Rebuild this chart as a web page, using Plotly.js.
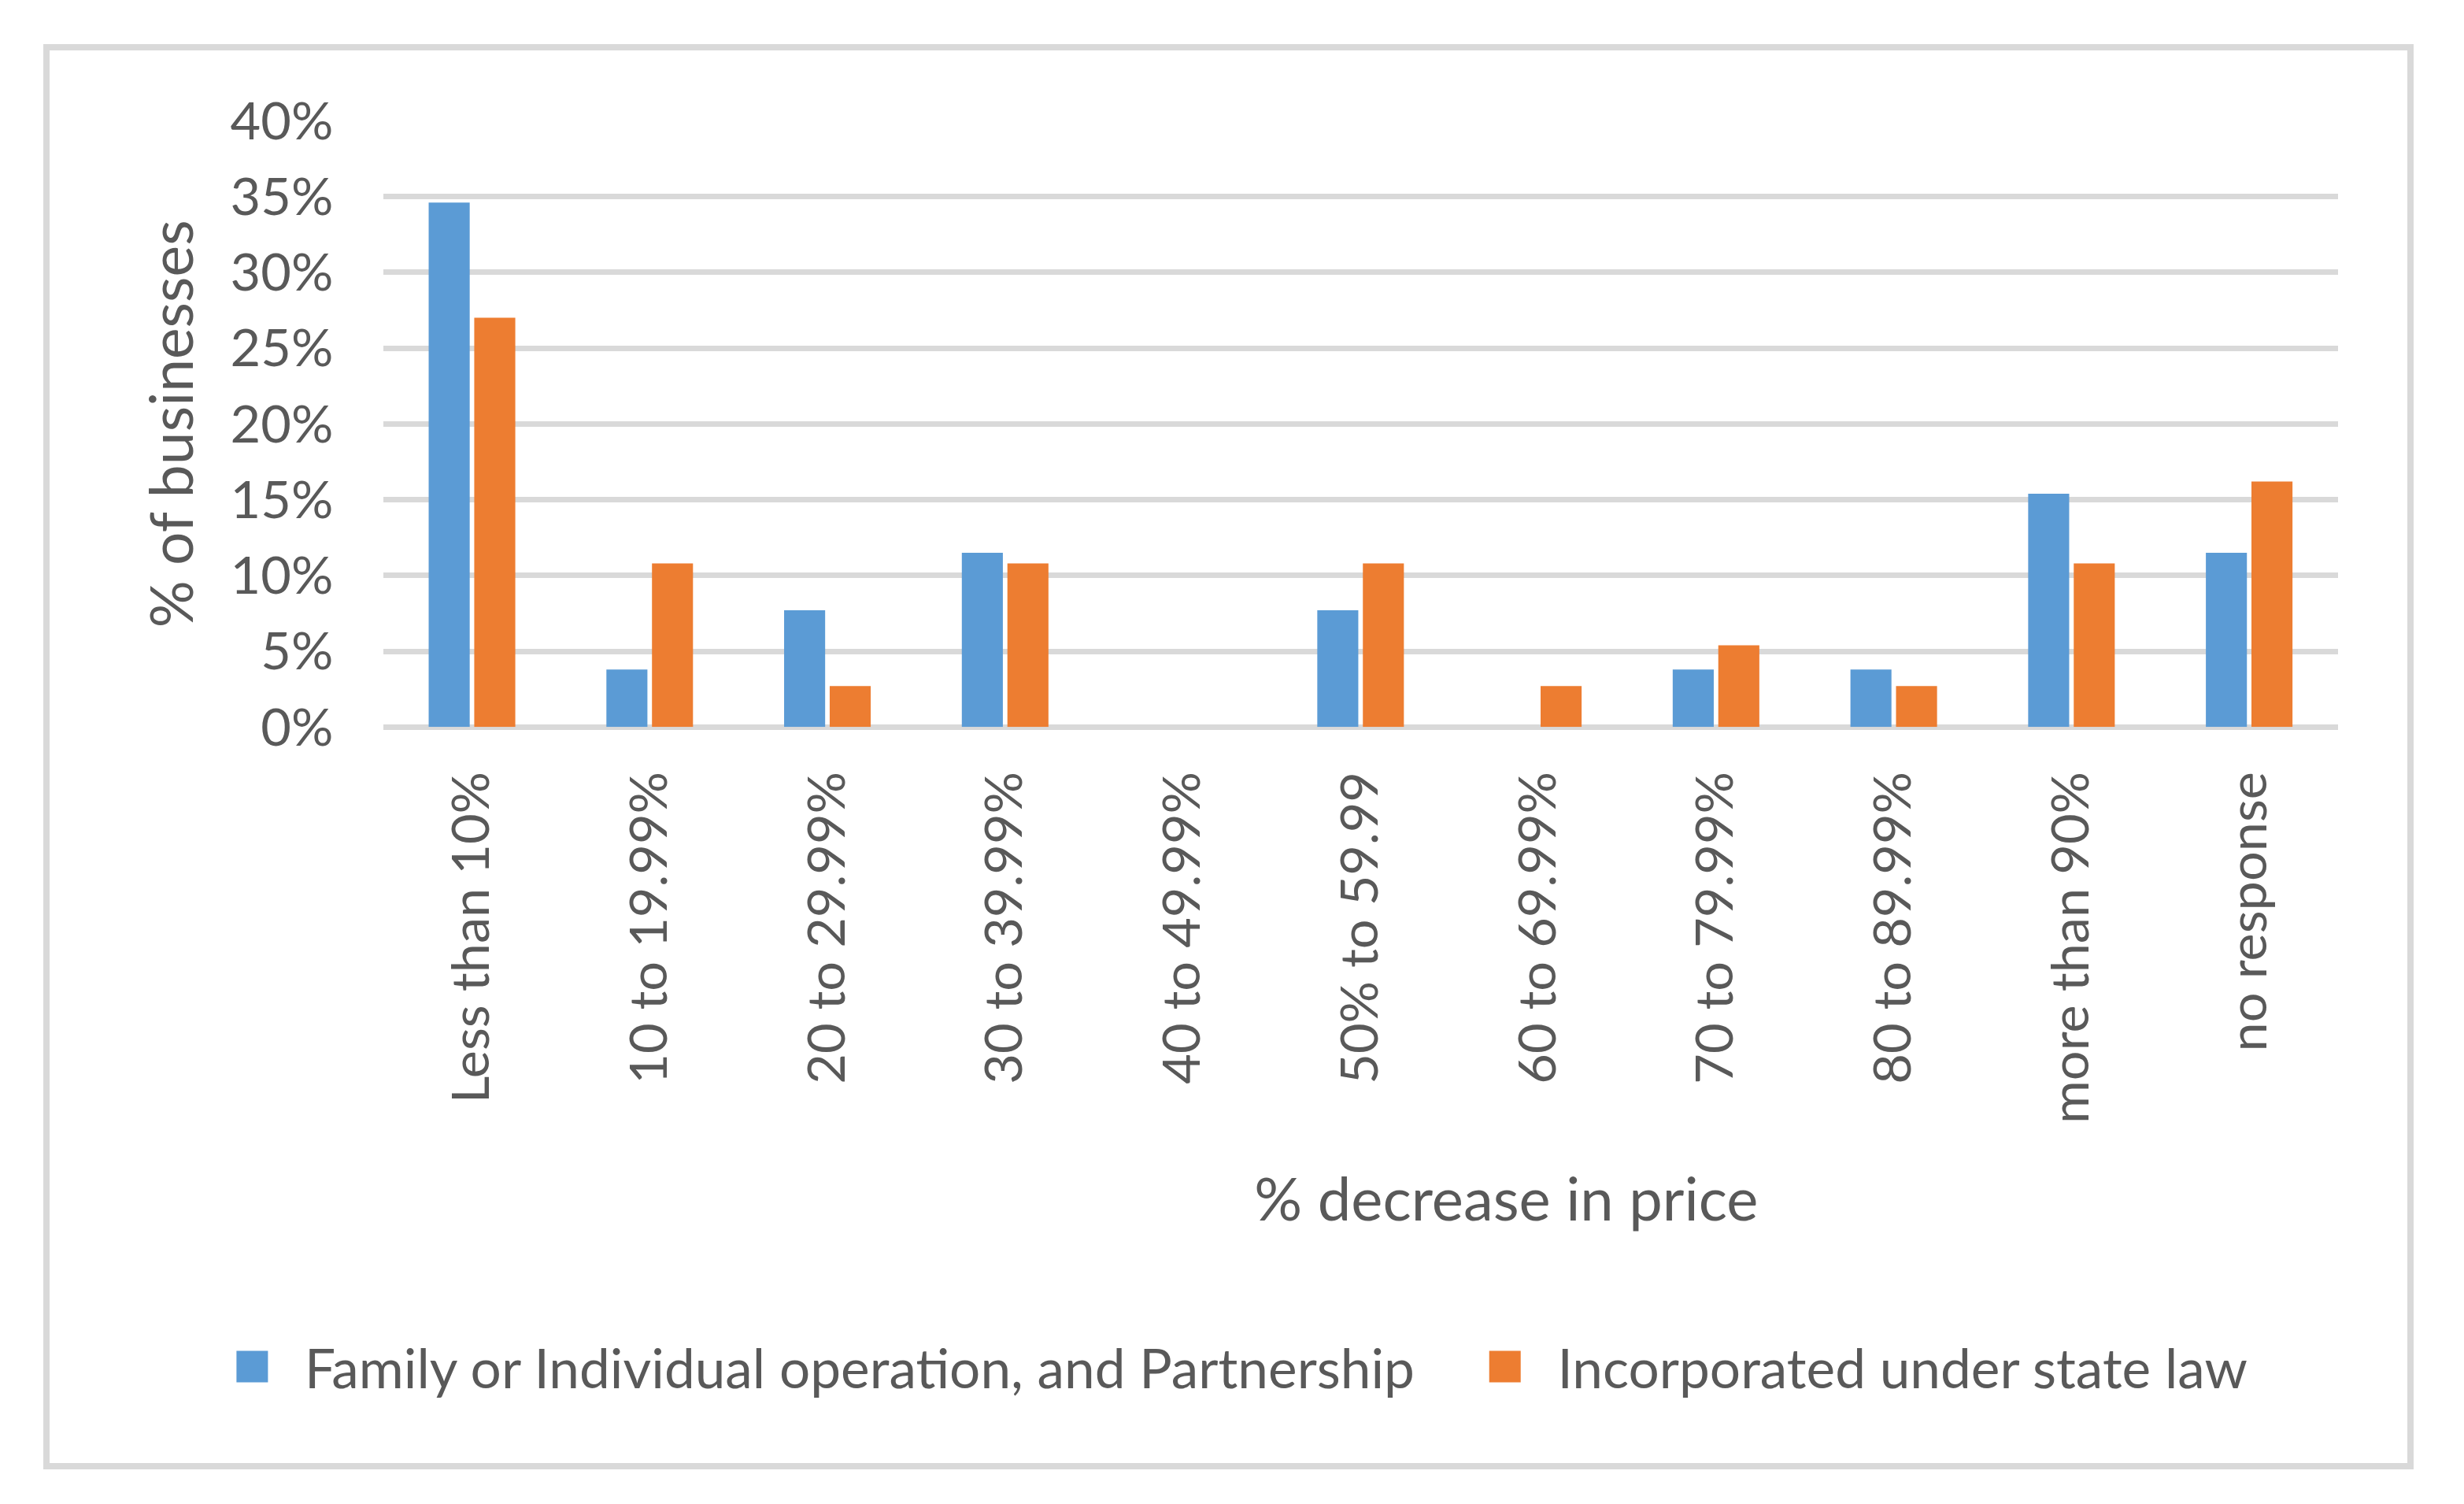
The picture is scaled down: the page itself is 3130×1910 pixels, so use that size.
<!DOCTYPE html>
<html><head><meta charset="utf-8">
<script src="https://cdn.plot.ly/plotly-3.0.1.min.js"></script>
<style>
html,body{margin:0;padding:0;background:#fff;}
#wrap{position:absolute;left:0;top:0;width:939px;height:573px;transform:scale(3.3333333);transform-origin:0 0;}
#frame{position:absolute;left:55px;top:56px;width:3011px;height:1810px;border:8px solid #d9d9d9;box-sizing:border-box;z-index:5;pointer-events:none;}
</style></head><body>
<div id="wrap"><div id="chart" style="width:939px;height:573px"></div></div>
<div id="frame"></div>
<script>
const categories = ['Less than 10%', '10 to 19.99%', '20 to 29.99%', '30 to 39.99%', '40 to 49.99%', '50% to 59.99', '60 to 69.99%', '70 to 79.99%', '80 to 89.99%', 'more than 90%', 'no response'];
const familyValues = [34.6, 3.8, 7.7, 11.5, 0, 7.7, 0, 3.8, 3.8, 15.4, 11.5];
const incorporatedValues = [27.0, 10.8, 2.7, 10.8, 0, 10.8, 2.7, 5.4, 2.7, 10.8, 16.2];
const seriesNames = ['Family or Individual operation, and Partnership', 'Incorporated under state law'];
const yTickValues = [0, 5, 10, 15, 20, 25, 30, 35, 40];
const yTickLabels = ['0%', '5%', '10%', '15%', '20%', '25%', '30%', '35%', '40%'];

const FONT = 'Lato, Carlito, Calibri, sans-serif';
const TXT = '#595959';

const traces = [
  {type: 'bar', name: seriesNames[0], x: categories, y: familyValues, marker: {color: '#5B9BD5'}, legendwidth: 432.4},
  {type: 'bar', name: seriesNames[1], x: categories, y: incorporatedValues, marker: {color: '#ED7D31'}, legendwidth: 280}
];

const layout = {
  width: 939, height: 573,
  margin: {l: 146.1, r: 48, t: 45.8, b: 296.4, pad: 0},
  paper_bgcolor: '#ffffff', plot_bgcolor: '#ffffff',
  font: {family: FONT, color: TXT, size: 20},
  barmode: 'group', bargap: 0.487, bargroupgap: 0.1,
  showlegend: true,
  legend: {orientation: 'h', x: -0.0938, xanchor: 'left', y: -1.0568, yanchor: 'middle',
           font: {family: FONT, size: 20.8, color: TXT}, bgcolor: 'rgba(0,0,0,0)', traceorder: 'normal'},
  xaxis: {
    type: 'category', tickangle: -90, ticks: '', showgrid: false, zeroline: false, showline: false,
    tickfont: {family: FONT, size: 20, color: TXT}, ticklabelstandoff: 12, automargin: false
  },
  yaxis: {
    range: [0, 40], tickvals: yTickValues, ticktext: yTickLabels, ticks: '',
    showgrid: true, gridcolor: '#d9d9d9', gridwidth: 2.1,
    zeroline: true, zerolinecolor: '#d9d9d9', zerolinewidth: 2.1, showline: false,
    tickfont: {family: FONT, size: 20, color: TXT}, ticklabelstandoff: 18, automargin: false,
    title: {text: '% of businesses', font: {family: FONT, size: 22.5, color: TXT}, standoff: 7}
  },
  annotations: [
    {text: '% decrease in price', xref: 'paper', yref: 'paper', x: 0.5743, y: -0.775,
     xanchor: 'center', yanchor: 'middle', showarrow: false, font: {family: FONT, size: 22.8, color: TXT}}
  ]
};

Plotly.newPlot('chart', traces, layout, {displayModeBar: false, staticPlot: true});
</script>
</body></html>
